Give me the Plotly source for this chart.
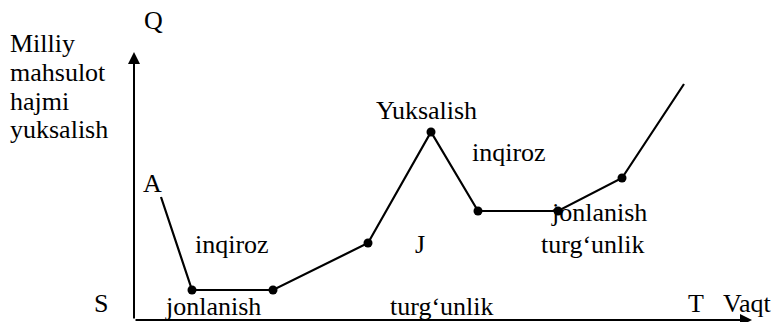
import plotly.graph_objects as go

# business cycle path (time, output), origin at S
vaqt = [27, 58, 139, 234, 297, 344, 424, 488, 550]
hajm = [123, 30, 30, 77, 188, 109, 109, 142, 236]
# points that carry a dot
dot_idx = [1, 2, 3, 4, 5, 6, 7]

# labels: text, x, y, anchor
labels = [
    ("Q", 19, 300, "center"),
    ("Milliy", -125, 277, "left"),
    ("mahsulot", -125, 248, "left"),
    ("hajmi", -125, 219, "left"),
    ("yuksalish", -125, 191, "left"),
    ("A", 18, 137, "center"),
    ("inqiroz", 98, 76, "center"),
    ("S", -33, 17, "center"),
    ("jonlanish", 79, 14, "center"),
    ("Yuksalish", 292, 210, "center"),
    ("inqiroz", 375, 168, "center"),
    ("J", 286, 76, "center"),
    ("turg\u2018unlik", 308, 14, "center"),
    ("jonlanish", 416, 108, "left"),
    ("turg\u2018unlik", 459, 76, "center"),
    ("T", 562, 17, "center"),
    ("Vaqt", 613, 17, "center"),
]

fig = go.Figure()
fig.add_trace(go.Scatter(x=vaqt, y=hajm, mode="lines",
                         line=dict(color="black", width=2.2), hoverinfo="skip"))
fig.add_trace(go.Scatter(x=[vaqt[i] for i in dot_idx], y=[hajm[i] for i in dot_idx],
                         mode="markers", marker=dict(color="black", size=9),
                         hoverinfo="skip"))

font = dict(family="Liberation Serif", size=26, color="black")
for txt, x, y, anc in labels:
    fig.add_annotation(x=x, y=y, text=txt, showarrow=False, xanchor=anc,
                       yanchor="middle", font=font, borderpad=0)

# axes with arrows
fig.add_annotation(x=0, y=268, ax=0, ay=0, xref="x", yref="y", axref="x", ayref="y",
                   showarrow=True, arrowhead=2, arrowsize=1.2, arrowwidth=2,
                   arrowcolor="black", text="")
fig.add_annotation(x=618, y=0, ax=0, ay=0, xref="x", yref="y", axref="x", ayref="y",
                   showarrow=True, arrowhead=2, arrowsize=1.2, arrowwidth=2,
                   arrowcolor="black", text="")

# page body adds an 8px margin, so the figure is a bit smaller than the window
fig.update_layout(
    width=775, height=314,
    margin=dict(l=0, r=0, t=0, b=0),
    paper_bgcolor="white", plot_bgcolor="white",
    showlegend=False,
    xaxis=dict(range=[-126, 649], visible=False, fixedrange=True),
    yaxis=dict(range=[-2, 312], visible=False, fixedrange=True),
)

fig.write_html("out.html")
